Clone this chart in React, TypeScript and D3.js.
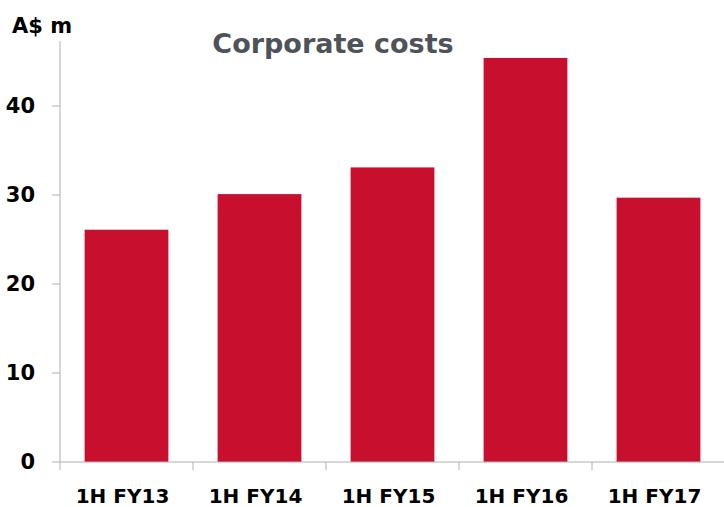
import React from "react";
import * as d3 from "d3";

const categories = ["1H FY13", "1H FY14", "1H FY15", "1H FY16", "1H FY17"];
const values = [26.1, 30.1, 33.1, 45.4, 29.7];
const yTicks = [0, 10, 20, 30, 40];

export default function App() {
  const W = 724, H = 507;
  const left = 60, right = 725, bottom = 462;
  const x = d3.scaleBand<string>().domain(categories).range([left, right]).padding(0);
  const y = d3.scaleLinear().domain([0, 10]).range([bottom, bottom - 89]);
  const barW = x.bandwidth() * 0.63;
  const font = "'DejaVu Sans', sans-serif";
  return (
    <svg width={W} height={H} style={{ position: "absolute", left: 0, top: 0, background: "#fff" }}>
      <text x={333} y={53} textAnchor="middle" fontFamily={font} fontWeight="bold" fontSize={27} fill="#4d5359">
        Corporate costs
      </text>
      <text x={12} y={33} fontFamily={font} fontWeight="bold" fontSize={21} fill="#000">
        A$ m
      </text>
      {categories.map((c, i) => (
        <rect key={c} x={x(c)! + (x.bandwidth() - barW) / 2} y={y(values[i])} width={barW}
          height={bottom - y(values[i])} fill="#c8102e" />
      ))}
      <line x1={left} x2={left} y1={41} y2={bottom + 8} stroke="#b0b0b0" strokeWidth={1} />
      <line x1={left} x2={right} y1={bottom} y2={bottom} stroke="#b0b0b0" strokeWidth={1} />
      {yTicks.map((t) => (
        <g key={t}>
          <line x1={left - 8} x2={left} y1={y(t)} y2={y(t)} stroke="#b0b0b0" />
          <text x={35} y={y(t)} dy="0.35em" textAnchor="end" fontFamily={font} fontWeight="bold" fontSize={21} fill="#000">
            {t}
          </text>
        </g>
      ))}
      {categories.map((c, i) => (
        <g key={c}>
          {i > 0 && <line x1={x(c)!} x2={x(c)!} y1={bottom} y2={bottom + 8} stroke="#b0b0b0" />}
          <text x={x(c)! + x.bandwidth() / 2 - 4} y={503} textAnchor="middle" fontFamily={font} fontWeight="bold" fontSize={20} fill="#000">
            {c}
          </text>
        </g>
      ))}
    </svg>
  );
}
